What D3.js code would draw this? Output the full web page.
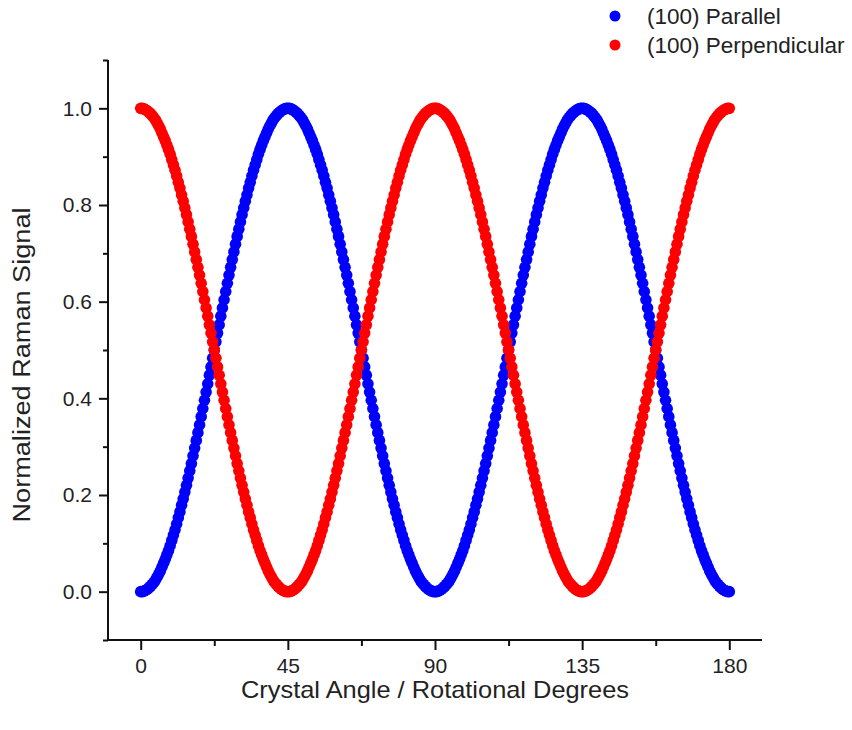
<!DOCTYPE html>
<html>
<head>
<meta charset="utf-8">
<script src="https://cdn.jsdelivr.net/npm/d3@7/dist/d3.min.js"></script>
<style>
  html, body { margin: 0; padding: 0; background: #fff; }
  svg { display: block; font-family: "Liberation Sans", Arial, sans-serif; }
</style>
</head>
<body>
<svg id="chart" width="852" height="730"></svg>
<script>
// Rotation angles (degrees), sampled every half degree from 0 to 180
const angles = d3.range(0, 180.5, 0.5);

// Normalized Raman signal, (100) face, parallel polarisation
const parallel = [
  0,0.000,0.001,0.003,0.005,0.008,0.011,0.015,0.019,0.024,0.030,0.036,0.043,0.051,0.059,0.067,
  0.076,0.085,0.095,0.106,0.117,0.128,0.140,0.153,0.165,0.179,0.192,0.206,0.220,0.235,0.250,
  0.265,0.281,0.297,0.313,0.329,0.345,0.362,0.379,0.396,0.413,0.430,0.448,0.465,0.483,0.500,
  0.517,0.535,0.552,0.570,0.587,0.604,0.621,0.638,0.655,0.671,0.687,0.703,0.719,0.735,0.750,
  0.765,0.780,0.794,0.808,0.821,0.835,0.847,0.860,0.872,0.883,0.894,0.905,0.915,0.924,0.933,
  0.941,0.949,0.957,0.964,0.970,0.976,0.981,0.985,0.989,0.992,0.995,0.997,0.999,1.000,1,
  1.000,0.999,0.997,0.995,0.992,0.989,0.985,0.981,0.976,0.970,0.964,0.957,0.949,0.941,0.933,
  0.924,0.915,0.905,0.894,0.883,0.872,0.860,0.847,0.835,0.821,0.808,0.794,0.780,0.765,0.750,
  0.735,0.719,0.703,0.687,0.671,0.655,0.638,0.621,0.604,0.587,0.570,0.552,0.535,0.517,0.500,
  0.483,0.465,0.448,0.430,0.413,0.396,0.379,0.362,0.345,0.329,0.313,0.297,0.281,0.265,0.250,
  0.235,0.220,0.206,0.192,0.179,0.165,0.153,0.140,0.128,0.117,0.106,0.095,0.085,0.076,0.067,
  0.059,0.051,0.043,0.036,0.030,0.024,0.019,0.015,0.011,0.008,0.005,0.003,0.001,0.000,0,
  0.000,0.001,0.003,0.005,0.008,0.011,0.015,0.019,0.024,0.030,0.036,0.043,0.051,0.059,0.067,
  0.076,0.085,0.095,0.106,0.117,0.128,0.140,0.153,0.165,0.179,0.192,0.206,0.220,0.235,0.250,
  0.265,0.281,0.297,0.313,0.329,0.345,0.362,0.379,0.396,0.413,0.430,0.448,0.465,0.483,0.500,
  0.517,0.535,0.552,0.570,0.587,0.604,0.621,0.638,0.655,0.671,0.687,0.703,0.719,0.735,0.750,
  0.765,0.780,0.794,0.808,0.821,0.835,0.847,0.860,0.872,0.883,0.894,0.905,0.915,0.924,0.933,
  0.941,0.949,0.957,0.964,0.970,0.976,0.981,0.985,0.989,0.992,0.995,0.997,0.999,1.000,1,
  1.000,0.999,0.997,0.995,0.992,0.989,0.985,0.981,0.976,0.970,0.964,0.957,0.949,0.941,0.933,
  0.924,0.915,0.905,0.894,0.883,0.872,0.860,0.847,0.835,0.821,0.808,0.794,0.780,0.765,0.750,
  0.735,0.719,0.703,0.687,0.671,0.655,0.638,0.621,0.604,0.587,0.570,0.552,0.535,0.517,0.500,
  0.483,0.465,0.448,0.430,0.413,0.396,0.379,0.362,0.345,0.329,0.313,0.297,0.281,0.265,0.250,
  0.235,0.220,0.206,0.192,0.179,0.165,0.153,0.140,0.128,0.117,0.106,0.095,0.085,0.076,0.067,
  0.059,0.051,0.043,0.036,0.030,0.024,0.019,0.015,0.011,0.008,0.005,0.003,0.001,0.000,0
];

// Normalized Raman signal, (100) face, perpendicular polarisation
const perpendicular = [
  1,1.000,0.999,0.997,0.995,0.992,0.989,0.985,0.981,0.976,0.970,0.964,0.957,0.949,0.941,0.933,
  0.924,0.915,0.905,0.894,0.883,0.872,0.860,0.847,0.835,0.821,0.808,0.794,0.780,0.765,0.750,
  0.735,0.719,0.703,0.687,0.671,0.655,0.638,0.621,0.604,0.587,0.570,0.552,0.535,0.517,0.500,
  0.483,0.465,0.448,0.430,0.413,0.396,0.379,0.362,0.345,0.329,0.313,0.297,0.281,0.265,0.250,
  0.235,0.220,0.206,0.192,0.179,0.165,0.153,0.140,0.128,0.117,0.106,0.095,0.085,0.076,0.067,
  0.059,0.051,0.043,0.036,0.030,0.024,0.019,0.015,0.011,0.008,0.005,0.003,0.001,0.000,0,
  0.000,0.001,0.003,0.005,0.008,0.011,0.015,0.019,0.024,0.030,0.036,0.043,0.051,0.059,0.067,
  0.076,0.085,0.095,0.106,0.117,0.128,0.140,0.153,0.165,0.179,0.192,0.206,0.220,0.235,0.250,
  0.265,0.281,0.297,0.313,0.329,0.345,0.362,0.379,0.396,0.413,0.430,0.448,0.465,0.483,0.500,
  0.517,0.535,0.552,0.570,0.587,0.604,0.621,0.638,0.655,0.671,0.687,0.703,0.719,0.735,0.750,
  0.765,0.780,0.794,0.808,0.821,0.835,0.847,0.860,0.872,0.883,0.894,0.905,0.915,0.924,0.933,
  0.941,0.949,0.957,0.964,0.970,0.976,0.981,0.985,0.989,0.992,0.995,0.997,0.999,1.000,1,
  1.000,0.999,0.997,0.995,0.992,0.989,0.985,0.981,0.976,0.970,0.964,0.957,0.949,0.941,0.933,
  0.924,0.915,0.905,0.894,0.883,0.872,0.860,0.847,0.835,0.821,0.808,0.794,0.780,0.765,0.750,
  0.735,0.719,0.703,0.687,0.671,0.655,0.638,0.621,0.604,0.587,0.570,0.552,0.535,0.517,0.500,
  0.483,0.465,0.448,0.430,0.413,0.396,0.379,0.362,0.345,0.329,0.313,0.297,0.281,0.265,0.250,
  0.235,0.220,0.206,0.192,0.179,0.165,0.153,0.140,0.128,0.117,0.106,0.095,0.085,0.076,0.067,
  0.059,0.051,0.043,0.036,0.030,0.024,0.019,0.015,0.011,0.008,0.005,0.003,0.001,0.000,0,
  0.000,0.001,0.003,0.005,0.008,0.011,0.015,0.019,0.024,0.030,0.036,0.043,0.051,0.059,0.067,
  0.076,0.085,0.095,0.106,0.117,0.128,0.140,0.153,0.165,0.179,0.192,0.206,0.220,0.235,0.250,
  0.265,0.281,0.297,0.313,0.329,0.345,0.362,0.379,0.396,0.413,0.430,0.448,0.465,0.483,0.500,
  0.517,0.535,0.552,0.570,0.587,0.604,0.621,0.638,0.655,0.671,0.687,0.703,0.719,0.735,0.750,
  0.765,0.780,0.794,0.808,0.821,0.835,0.847,0.860,0.872,0.883,0.894,0.905,0.915,0.924,0.933,
  0.941,0.949,0.957,0.964,0.970,0.976,0.981,0.985,0.989,0.992,0.995,0.997,0.999,1.000,1
];

const seriesNames = ["(100) Parallel", "(100) Perpendicular"];
const seriesColors = ["#0000ff", "#ff0000"];

const xTicks = [0, 45, 90, 135, 180];
const xMinorTicks = [22.5, 67.5, 112.5, 157.5];
const yTicks = [0.0, 0.2, 0.4, 0.6, 0.8, 1.0];
const yMinorTicks = [-0.1, 0.1, 0.3, 0.5, 0.7, 0.9, 1.1];

const xTitle = "Crystal Angle / Rotational Degrees";
const yTitle = "Normalized Raman Signal";

// ---- layout ----
const svg = d3.select("#chart");
const plot = { left: 108, right: 762, top: 60, bottom: 640 };

const x = d3.scaleLinear().domain([-10, 190]).range([plot.left, plot.right]);
const y = d3.scaleLinear().domain([-0.1, 1.1]).range([plot.bottom, plot.top]);

const axisColor = "#111";
const tickFont = 21;

// ---- axes ----
const xAxis = svg.append("g").attr("transform", `translate(0,${plot.bottom})`)
  .call(d3.axisBottom(x).tickValues(xTicks).tickSize(10).tickSizeOuter(0)
    .tickFormat(d3.format("d")).tickPadding(8));
const xMinor = svg.append("g").attr("transform", `translate(0,${plot.bottom})`)
  .call(d3.axisBottom(x).tickValues(xMinorTicks).tickSize(6).tickSizeOuter(0).tickFormat(""));

const yAxis = svg.append("g").attr("transform", `translate(${plot.left},0)`)
  .call(d3.axisLeft(y).tickValues(yTicks).tickSize(9).tickSizeOuter(0)
    .tickFormat(d3.format(".1f")).tickPadding(7));
const yMinor = svg.append("g").attr("transform", `translate(${plot.left},0)`)
  .call(d3.axisLeft(y).tickValues(yMinorTicks).tickSize(5).tickSizeOuter(0).tickFormat(""));

[xAxis, xMinor, yAxis, yMinor].forEach(g => {
  g.select(".domain").remove();
  g.selectAll(".tick line").attr("stroke", axisColor).attr("stroke-width", 2);
  g.selectAll(".tick text")
    .attr("fill", "#222")
    .style("font-size", tickFont + "px")
    .style("font-family", '"Liberation Sans", Arial, sans-serif');
});

// axis lines
svg.append("line")
  .attr("x1", plot.left).attr("x2", plot.left)
  .attr("y1", plot.top).attr("y2", plot.bottom + 1)
  .attr("stroke", axisColor).attr("stroke-width", 2);
svg.append("line")
  .attr("x1", plot.left - 1).attr("x2", plot.right)
  .attr("y1", plot.bottom).attr("y2", plot.bottom)
  .attr("stroke", axisColor).attr("stroke-width", 2);

// ---- axis titles ----
svg.append("text")
  .attr("x", (x(0) + x(180)) / 2).attr("y", 698)
  .attr("text-anchor", "middle")
  .attr("fill", "#222")
  .style("font-size", "24px")
  .attr("textLength", 388).attr("lengthAdjust", "spacingAndGlyphs")
  .text(xTitle);

svg.append("text")
  .attr("transform", `translate(30,365) rotate(-90)`)
  .attr("text-anchor", "middle")
  .attr("fill", "#222")
  .style("font-size", "23px")
  .attr("textLength", 315).attr("lengthAdjust", "spacingAndGlyphs")
  .text(yTitle);

// ---- data points ----
const series = [parallel, perpendicular];
series.forEach((vals, i) => {
  svg.append("g")
    .selectAll("circle")
    .data(angles.map((a, j) => ({ a, v: vals[j] })))
    .join("circle")
    .attr("cx", d => x(d.a))
    .attr("cy", d => y(d.v))
    .attr("r", 5.8)
    .attr("fill", seriesColors[i]);
});

// ---- legend ----
const legend = svg.append("g");
seriesNames.forEach((name, i) => {
  const cy = 16 + i * 29;
  legend.append("circle").attr("cx", 615).attr("cy", cy).attr("r", 5.5).attr("fill", seriesColors[i]);
  legend.append("text")
    .attr("x", 647).attr("y", cy + 8)
    .attr("fill", "#222")
    .style("font-size", "22.5px")
    .text(name);
});
</script>
</body>
</html>
